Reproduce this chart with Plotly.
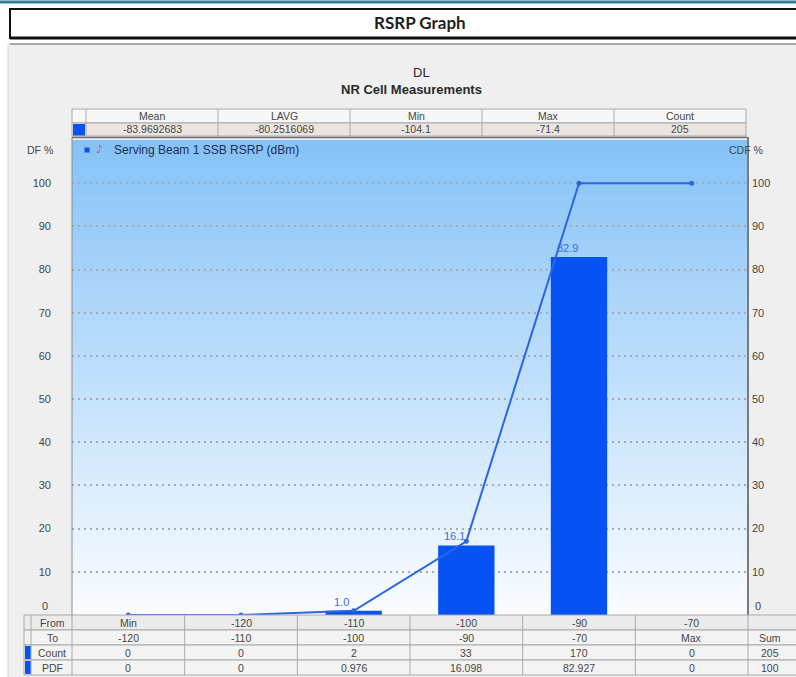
import plotly.graph_objects as go

W, H = 796, 677

# ---- data -------------------------------------------------------------
bin_from = ["Min", "-120", "-110", "-100", "-90", "-70"]
bin_to = ["-120", "-110", "-100", "-90", "-70", "Max"]
bin_count = [0, 0, 2, 33, 170, 0]
pdf_pct = [0, 0, 0.976, 16.098, 82.927, 0]
pdf_text = ["0", "0", "0.976", "16.098", "82.927", "0"]
cdf_pct = [0, 0, 0.976, 17.074, 100.0, 100.0]
count_sum = 205
pdf_sum = 100

stat_names = ["Mean", "LAVG", "Min", "Max", "Count"]
stat_values = ["-83.9692683", "-80.2516069", "-104.1", "-71.4", "205"]

y_ticks = [0, 10, 20, 30, 40, 50, 60, 70, 80, 90, 100]

# ---- styling ------------------------------------------------------------
FONT = "Liberation Sans"
TXT = "#464646"
GRID = "#a3acb6"
BAR = "#0652f2"
LINE = "#2b66e0"
CELL_LINE = "#a9a9a9"

PLOT_L, PLOT_R, PLOT_T, PLOT_B = 72, 748, 140, 615

shapes = []
annotations = []


def rect(x0, y0, x1, y1, fill, line=CELL_LINE, lw=1, layer="below"):
    shapes.append(dict(type="rect", xref="paper", yref="paper",
                       x0=x0 / W, x1=x1 / W, y0=1 - y1 / H, y1=1 - y0 / H,
                       fillcolor=fill, line=dict(color=line, width=lw), layer=layer))


def hline(x0, x1, y, color, lw=1, layer="below"):
    shapes.append(dict(type="line", xref="paper", yref="paper",
                       x0=x0 / W, x1=x1 / W, y0=1 - y / H, y1=1 - y / H,
                       line=dict(color=color, width=lw), layer=layer))


def vline(x, y0, y1, color, lw=1, layer="below"):
    shapes.append(dict(type="line", xref="paper", yref="paper",
                       x0=x / W, x1=x / W, y0=1 - y0 / H, y1=1 - y1 / H,
                       line=dict(color=color, width=lw), layer=layer))


def text(x, y, s, size=11, color=TXT, family=FONT, xanchor="center"):
    annotations.append(dict(xref="paper", yref="paper", x=x / W, y=1 - y / H,
                            text=s, showarrow=False, xanchor=xanchor, yanchor="middle",
                            font=dict(family=family, size=size, color=color)))


# page frame
rect(0, 0, W, H, "#ffffff", line="rgba(0,0,0,0)", lw=0)
rect(8, 44, W + 5, H + 5, "#efefef", line="#dadada", lw=1)
hline(0, W, 2, "#2f7d9c", lw=3)
hline(10, W, 44, "#a6a6a6", lw=2)

# title box
rect(10, 9, W + 5, 38, "#ffffff", line="#111111", lw=2)
hline(10, W, 38, "#111111", lw=3)
text(420, 22, "<b>RSRP Graph</b>", size=17, color="#1e1e1e", family="Lato")

# chart headings
text(421, 72, "DL", size=13, color="#2a2a2a")
text(411, 90, "<b>NR Cell Measurements</b>", size=13, color="#2a2a2a")

# statistics table
st_l, st_r = 72, 746
st_first = 86
col_w = (st_r - st_first) / len(stat_names)
rect(st_l, 109, st_r, 123, "#f7f7f7")
rect(st_l, 123, st_r, 136, "#ece5df")
rect(st_l + 1, 124, st_first - 1, 135.5, BAR, line=BAR, lw=0)
vline(st_first, 109, 136, CELL_LINE)
for i, (name, val) in enumerate(zip(stat_names, stat_values)):
    cx0 = st_first + i * col_w
    if i > 0:
        vline(cx0, 109, 136, CELL_LINE)
    text(cx0 + col_w / 2, 116, name, size=10.5)
    text(cx0 + col_w / 2, 129.5, val, size=10.5)

# gradient plot background
n_steps = 95
top_rgb = (134, 194, 247)
bot_rgb = (250, 252, 255)
step_h = (PLOT_B - PLOT_T) / n_steps
for k in range(n_steps):
    t = k / (n_steps - 1)
    c = tuple(round(a + (b - a) * t) for a, b in zip(top_rgb, bot_rgb))
    y0 = PLOT_T + k * step_h
    shapes.append(dict(type="rect", xref="paper", yref="paper",
                       x0=PLOT_L / W, x1=PLOT_R / W,
                       y0=1 - (y0 + step_h + 0.6) / H, y1=1 - y0 / H,
                       fillcolor="rgb(%d,%d,%d)" % c, line=dict(width=0), layer="below"))

# plot frame
vline(PLOT_L, 137, PLOT_B, "#8c8c8c", lw=1, layer="above")
hline(PLOT_L, PLOT_R, 137.5, "#6f6f6f", lw=1.5, layer="above")
vline(PLOT_R, 137, PLOT_B + 1, "#7a7a7a", lw=2, layer="above")

# axis titles
text(40, 150, "DF %", size=10.5)
text(746, 150, "CDF %", size=10.5)

# legend
rect(84.5, 147.5, 89.5, 152.5, BAR, line=BAR, lw=0, layer="above")
text(100, 150, "♪", size=11, color="#d0607e", family="DejaVu Sans")
text(112, 150, "Serving Beam 1 SSB RSRP (dBm)", size=12, color="#1e2d55", xanchor="left")

# bottom bin table
rows_y = [615, 630, 645, 660, 675]
tb_l, tb_lab, tb_mark = 24, 72, 31
cat_w = (PLOT_R - PLOT_L) / len(bin_from)
tb_r = W + 5
row_fills = ["#ebebeb", "#f3f3f3", "#f3f3f3", "#f3f3f3"]
row_names = ["From", "To", "Count", "PDF"]
for r in range(4):
    rect(tb_l, rows_y[r], tb_r, rows_y[r + 1], row_fills[r], layer="above")
    if r >= 2:
        rect(tb_l + 1, rows_y[r] + 1, tb_mark, rows_y[r + 1] - 1, BAR, line=BAR, lw=0, layer="above")
    text((tb_mark + tb_lab) / 2 + 0.5, (rows_y[r] + rows_y[r + 1]) / 2, row_names[r], size=10.5)
vline(tb_mark, 615, 675, CELL_LINE, layer="above")
for i in range(len(bin_from) + 1):
    vline(PLOT_L + i * cat_w, 615, 675, CELL_LINE, layer="above")

row_vals = [bin_from, bin_to, [str(c) for c in bin_count], pdf_text]
for r, vals in enumerate(row_vals):
    cy = (rows_y[r] + rows_y[r + 1]) / 2
    for i, v in enumerate(vals):
        text(PLOT_L + (i + 0.5) * cat_w, cy, v, size=10.5)
sum_x = (PLOT_R + W) / 2 - 2
text(sum_x, 637.5, "Sum", size=10.5)
text(sum_x, 652.5, str(count_sum), size=10.5)
text(sum_x, 667.5, str(pdf_sum), size=10.5)

# ---- traces ----------------------------------------------------------------
x_idx = list(range(len(bin_from)))

fig = go.Figure()
fig.add_trace(go.Bar(x=x_idx, y=pdf_pct, width=0.5, marker=dict(color=BAR, line=dict(width=0)),
                     name="PDF", showlegend=False))
fig.add_trace(go.Scatter(x=x_idx, y=cdf_pct, mode="lines+markers", yaxis="y2",
                         line=dict(color=LINE, width=2), marker=dict(color=LINE, size=5),
                         name="CDF", showlegend=False))

# value labels above the bars
for i, v in enumerate(pdf_pct):
    if v > 0:
        annotations.append(dict(xref="x", yref="y", x=i, y=v, text=f"{v:.1f}",
                                showarrow=False, xanchor="center", yanchor="bottom",
                                xshift=-12, yshift=1,
                                font=dict(family=FONT, size=11, color="#3a6edc")))

# "0" labels sit just above the baseline
annotations.append(dict(xref="paper", yref="y", x=PLOT_L / W, y=0, text="0", showarrow=False,
                        xanchor="right", yanchor="middle", xshift=-22, yshift=9,
                        font=dict(family=FONT, size=11, color=TXT)))
annotations.append(dict(xref="paper", yref="y", x=PLOT_R / W, y=0, text="0", showarrow=False,
                        xanchor="left", yanchor="middle", xshift=5, yshift=9,
                        font=dict(family=FONT, size=11, color=TXT)))

y_labels = ["" if v == 0 else str(v) for v in y_ticks]

fig.update_layout(
    width=W, height=H,
    margin=dict(l=0, r=0, t=0, b=0),
    paper_bgcolor="#ffffff",
    plot_bgcolor="rgba(0,0,0,0)",
    showlegend=False,
    bargap=0.5,
    xaxis=dict(domain=[PLOT_L / W, PLOT_R / W], range=[-0.5, 5.5],
               showticklabels=False, showgrid=False, zeroline=False, ticks="",
               fixedrange=True),
    yaxis=dict(domain=[1 - PLOT_B / H, 1 - PLOT_T / H], range=[0, 110],
               tickvals=y_ticks, ticktext=y_labels, showgrid=True,
               gridcolor=GRID, griddash="2px,4px", gridwidth=1.5,
               zeroline=False, ticks="", ticklabelstandoff=20,
               tickfont=dict(family=FONT, size=11, color=TXT)),
    yaxis2=dict(overlaying="y", side="right", range=[0, 110],
                tickvals=y_ticks, ticktext=y_labels, showgrid=False,
                zeroline=False, ticks="", ticklabelstandoff=3,
                tickfont=dict(family=FONT, size=11, color=TXT)),
    shapes=shapes,
    annotations=annotations,
)

fig.write_html("out.html")
